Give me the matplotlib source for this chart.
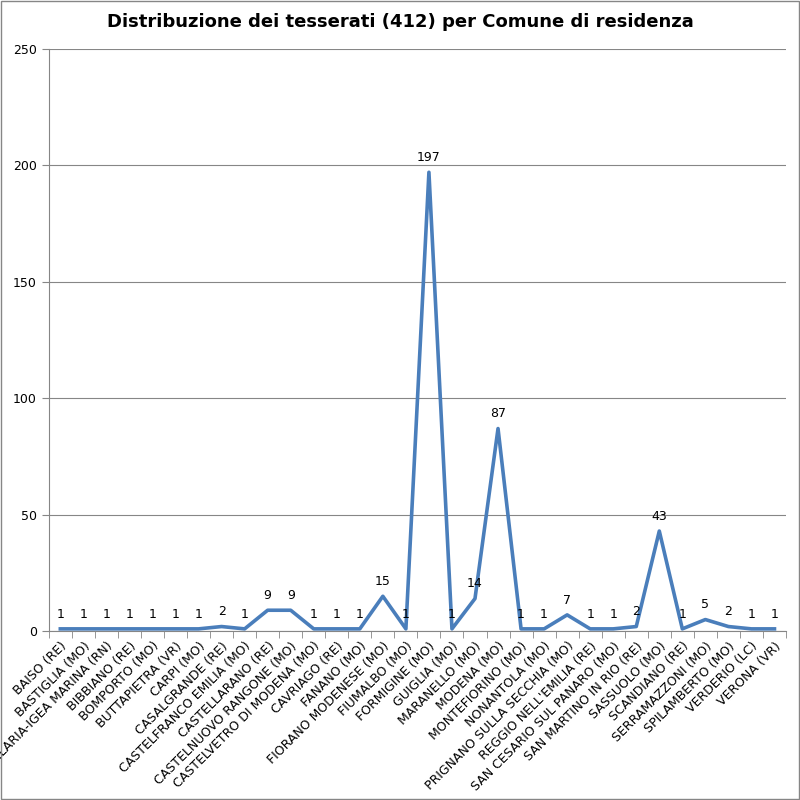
import numpy as np
import matplotlib.pyplot as plt
from matplotlib.patches import Rectangle

comuni = ["BAISO (RE)", "BASTIGLIA (MO)", "BELLARIA-IGEA MARINA (RN)", "BIBBIANO (RE)",
          "BOMPORTO (MO)", "BUTTAPIETRA (VR)", "CARPI (MO)", "CASALGRANDE (RE)",
          "CASTELFRANCO EMILIA (MO)", "CASTELLARANO (RE)", "CASTELNUOVO RANGONE (MO)",
          "CASTELVETRO DI MODENA (MO)", "CAVRIAGO (RE)", "FANANO (MO)",
          "FIORANO MODENESE (MO)", "FIUMALBO (MO)", "FORMIGINE (MO)", "GUIGLIA (MO)",
          "MARANELLO (MO)", "MODENA (MO)", "MONTEFIORINO (MO)", "NONANTOLA (MO)",
          "PRIGNANO SULLA SECCHIA (MO)", "REGGIO NELL'EMILIA (RE)",
          "SAN CESARIO SUL PANARO (MO)", "SAN MARTINO IN RIO (RE)", "SASSUOLO (MO)",
          "SCANDIANO (RE)", "SERRAMAZZONI (MO)", "SPILAMBERTO (MO)", "VERDERIO (LC)",
          "VERONA (VR)"]
tesserati = [1, 1, 1, 1, 1, 1, 1, 2, 1, 9, 9, 1, 1, 1, 15, 1, 197, 1, 14, 87,
             1, 1, 7, 1, 1, 2, 43, 1, 5, 2, 1, 1]
y_ticks = [0, 50, 100, 150, 200, 250]

fig = plt.figure(figsize=(8, 8), dpi=100)
ax = fig.add_axes([0.061, 0.211, 0.9215, 0.728])

x = np.arange(len(comuni))
ax.plot(x, tesserati, color='#4A7EBB', linewidth=2.6, zorder=3)
for xi, v in zip(x, tesserati):
    ax.annotate(str(v), (xi, v), xytext=(0, 6), textcoords='offset points',
                ha='center', va='bottom', fontsize=9)

ax.set_xlim(-0.5, len(comuni) - 0.5)
ax.set_ylim(0, 250)
ax.set_yticks(y_ticks)
ax.set_xticks(x)
ax.set_xticklabels(comuni, rotation=45, ha='right', rotation_mode='anchor', fontsize=9)
ax.set_xticks(np.arange(-0.5, len(comuni)), minor=True)
ax.tick_params(axis='x', which='major', length=0, pad=6)
ax.tick_params(axis='x', which='minor', length=5, color='#868686')
ax.tick_params(axis='y', length=5, color='#868686', labelsize=9)
ax.grid(axis='y', color='#868686', linewidth=0.8)
ax.set_axisbelow(True)
for s in ['top', 'right']:
    ax.spines[s].set_visible(False)
for s in ['left', 'bottom']:
    ax.spines[s].set_color('#868686')

fig.text(0.5, 0.972, "Distribuzione dei tesserati (412) per Comune di residenza",
         ha='center', va='center', fontsize=13, fontweight='bold')
fig.patches.append(Rectangle((0.001, 0.001), 0.998, 0.998, transform=fig.transFigure,
                             fill=False, edgecolor='#868686', linewidth=1))

fig.savefig('out.png', dpi=100)
